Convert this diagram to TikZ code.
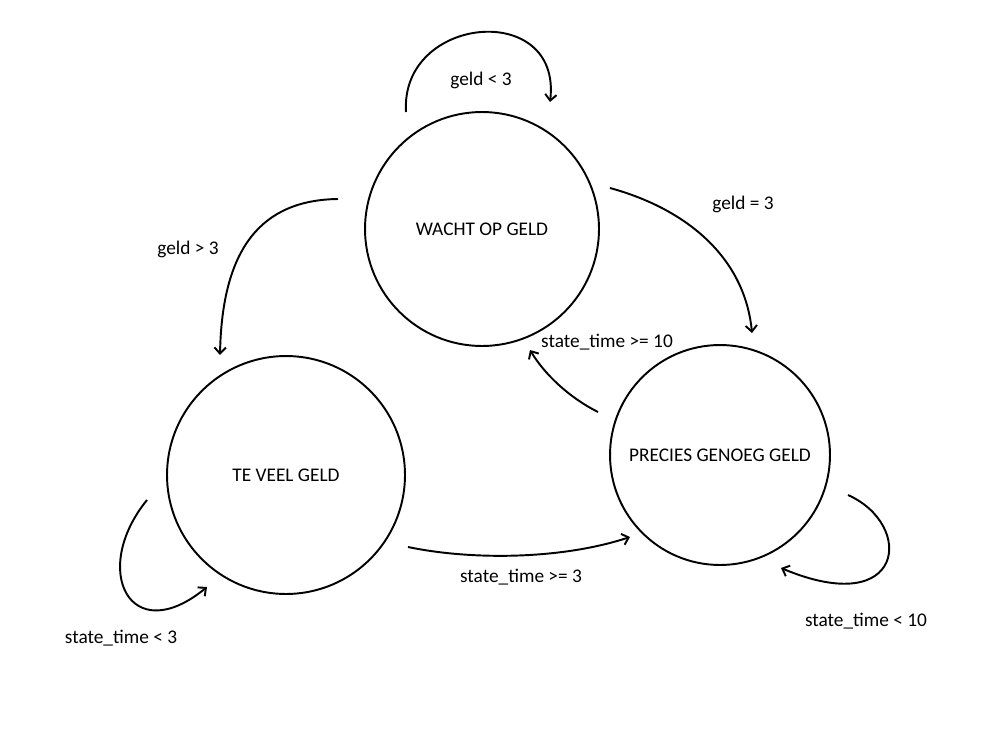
\documentclass[tikz,border=0pt]{standalone}
\usepackage{fontspec}
\setmainfont{Carlito}
\usetikzlibrary{arrows.meta}

\tikzstyle{state}=[draw=black,circle,line width=1.1pt,inner sep=0pt,font=\fontsize{11pt}{13pt}\selectfont]
\tikzstyle{cond}=[font=\fontsize{11pt}{13pt}\selectfont,inner sep=1pt]
\tikzstyle{trans}=[draw=black,line width=1.1pt,-{Straight Barb[length=3.5pt,width=6.5pt]}]

\begin{document}
\begin{tikzpicture}[x=0.02cm,y=-0.02cm]

   \useasboundingbox (0,0) rectangle (1000,750);

   \node[state,minimum size=4.68cm] (wacht) at (482,229) {WACHT OP GELD};
   \node[state,minimum size=4.76cm] (teveel) at (286,475) {TE VEEL GELD};
   \node[state,minimum size=4.4cm] (precies) at (720,455) {PRECIES GENOEG GELD};

   \coordinate (w1) at (406,112); \coordinate (w2) at (550,102);
   \coordinate (w3) at (610,188); \coordinate (p1) at (752,333);
   \coordinate (w4) at (338,199); \coordinate (t1) at (220,355);
   \coordinate (p2) at (598,412); \coordinate (w5) at (530,350);
   \coordinate (t2) at (408,547); \coordinate (p3) at (630,537);
   \coordinate (t3) at (147,500); \coordinate (t4) at (207,587);
   \coordinate (p4) at (848,495); \coordinate (p5) at (781,568);

   \draw[trans] (w1) .. controls (400,15) and (562,0) .. (w2);
   \draw[trans] (w3) .. controls (690,210) and (745,260) .. (p1);
   \draw[trans] (w4) .. controls (260,200) and (222,250) .. (t1);
   \draw[trans] (p2) .. controls (570,398) and (545,375) .. (w5);
   \draw[trans] (t2) .. controls (470,560) and (560,560) .. (p3);
   \draw[trans] (t3) .. controls (90,570) and (130,650) .. (t4);
   \draw[trans] (p4) .. controls (915,525) and (905,620) .. (p5);

   \node[cond] (lw1) at (481,80) {geld < 3};
   \node[cond] (lw2) at (743,204) {geld = 3};
   \node[cond] (lw3) at (188,249) {geld > 3};
   \node[cond] (lp1) at (607,342) {state\_time >= 10};
   \node[cond] (lt1) at (521,577) {state\_time >= 3};
   \node[cond] (lt2) at (121,638) {state\_time < 3};
   \node[cond] (lp2) at (866,621) {state\_time < 10};

\end{tikzpicture}
\end{document}
